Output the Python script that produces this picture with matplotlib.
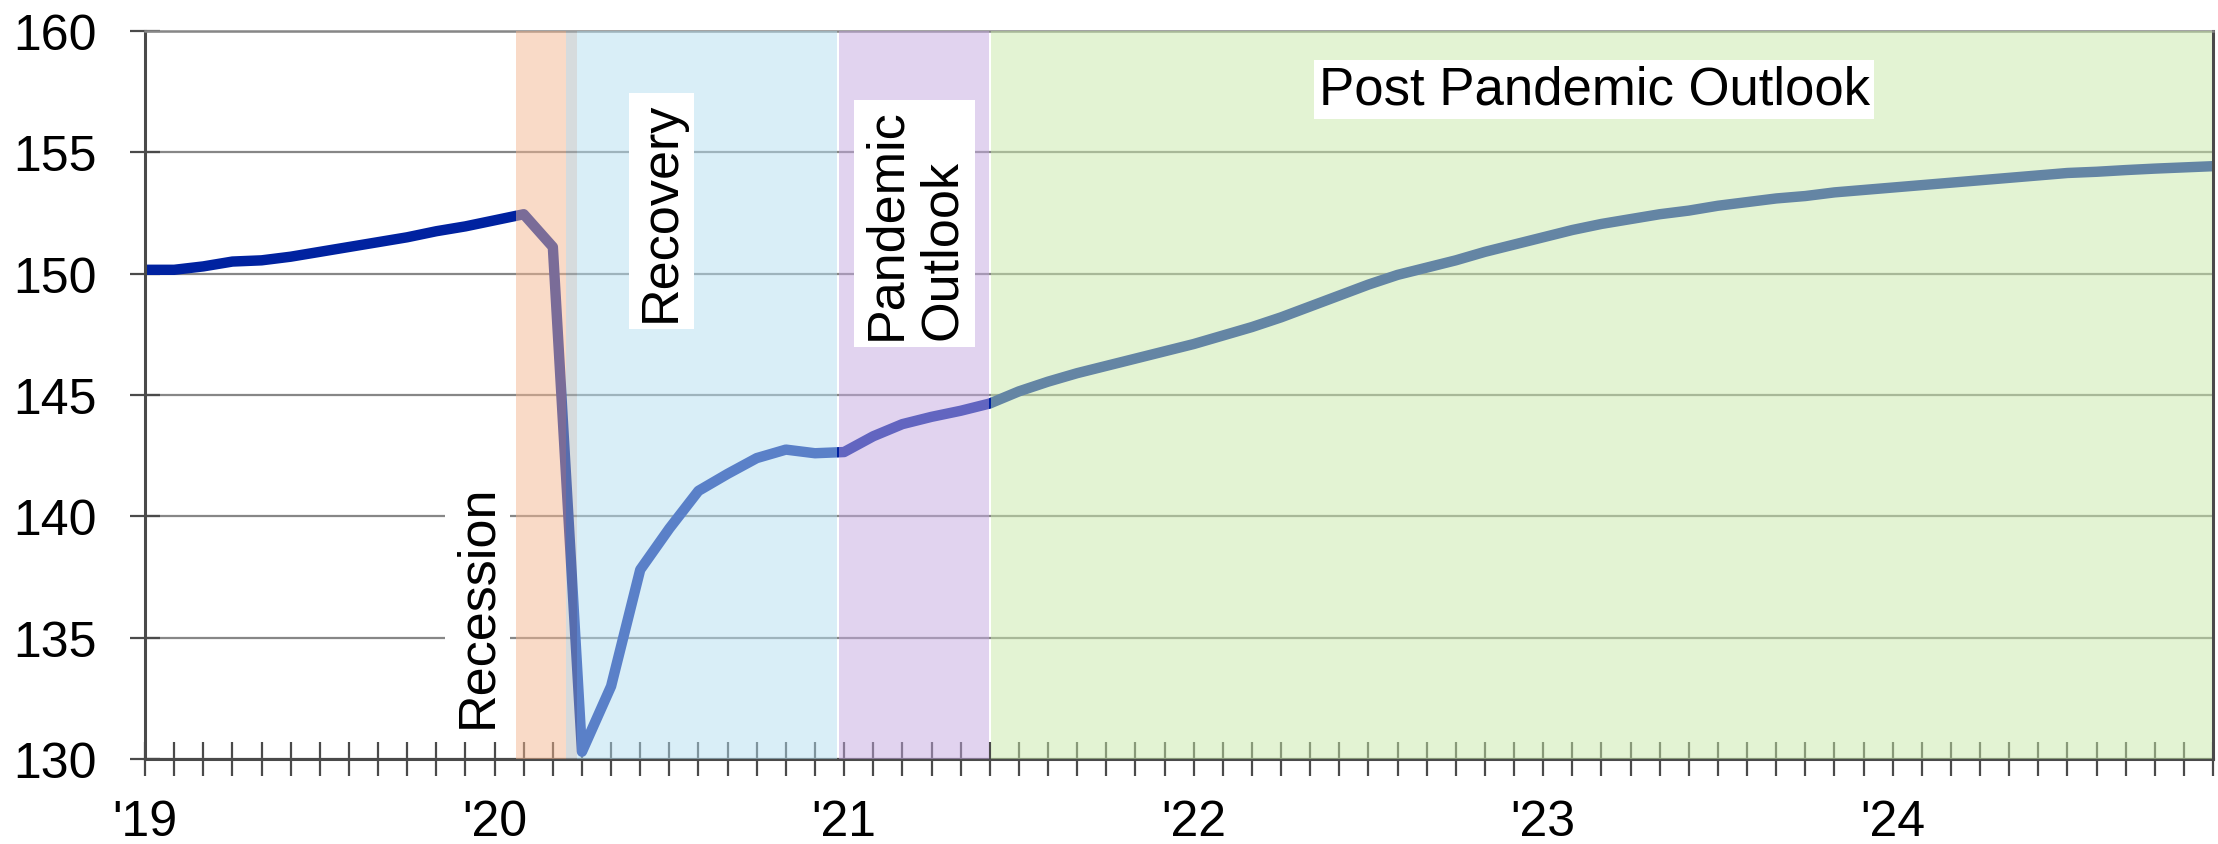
import numpy as np
import matplotlib.pyplot as plt

plt.rcParams['font.family'] = ['Liberation Sans', 'DejaVu Sans']

# monthly level, Jan 2019 (index 0) .. Dec 2024 (index 71)
payrolls = [
    150.16, 150.16, 150.3, 150.5, 150.55, 150.7, 150.9, 151.1, 151.3, 151.5, 151.75, 151.95,   # 2019
    152.2, 152.45, 151.1, 130.3, 133.0, 137.8, 139.5, 141.05, 141.75, 142.4, 142.75, 142.6,   # 2020
    142.65, 143.3, 143.8, 144.1, 144.35, 144.65, 145.15, 145.55, 145.9, 146.2, 146.5, 146.8,  # 2021
    147.1, 147.45, 147.8, 148.2, 148.65, 149.1, 149.55, 149.95, 150.25, 150.55, 150.9, 151.2,  # 2022
    151.5, 151.8, 152.05, 152.25, 152.45, 152.6, 152.8, 152.95, 153.1, 153.2, 153.35, 153.45,  # 2023
    153.55, 153.65, 153.75, 153.85, 153.95, 154.05, 154.15, 154.2, 154.27, 154.33, 154.38, 154.43,  # 2024
]
year_labels = ["'19", "'20", "'21", "'22", "'23", "'24"]

# shaded phases, in month index
phase_start = [12.74, 14.45, 14.83, 23.82, 29.05]
phase_end = [14.45, 14.83, 23.74, 28.98, 70.95]
phase_colors = ['#F5B791', '#AFB9BD', '#B5DFF1', '#C5A9E1', '#C9E9A9']

months = np.arange(len(payrolls))

fig = plt.figure(figsize=(22.18, 8.45), dpi=100)
ax = fig.add_axes([0.0654, 0.1006, 0.9324, 0.8615])

ax.plot(months, payrolls, color='#0022A0', lw=7.5, zorder=2)

# the phase blocks sit on top of the line, half transparent
for s, e, c in zip(phase_start, phase_end, phase_colors):
    ax.axvspan(s, e, color=c, alpha=0.5, lw=0, zorder=3)

ax.set_xlim(0, len(payrolls) - 1)
ax.set_ylim(130, 160)
ax.set_yticks(range(130, 161, 5))
xlabels = [year_labels[m // 12] if m % 12 == 0 else '' for m in months]
ax.set_xticks(months, xlabels)

ax.set_axisbelow(True)
ax.grid(axis='y', color='#878787', lw=1.6)
ax.grid(axis='x', visible=False)
ax.tick_params(axis='x', direction='inout', length=24, width=1.6,
               color='#4a4a4a', pad=17, labelsize=36)
ax.tick_params(axis='y', direction='inout', length=22, width=1.6,
               color='#4a4a4a', pad=24, labelsize=36)
for side in ['left', 'bottom', 'right']:
    ax.spines[side].set_color('#4a4a4a')
    ax.spines[side].set_linewidth(2.2)
ax.spines['top'].set_color('#878787')
ax.spines['top'].set_linewidth(1.8)

box = dict(facecolor='white', edgecolor='none', boxstyle='square,pad=0.15')
ax.text(11.41, 136.35, 'Recession', rotation=90, ha='center', va='center',
        fontsize=37.5, bbox=box, zorder=5)
ax.text(17.72, 152.6, 'Recovery', rotation=90, ha='center', va='center',
        fontsize=37.5, bbox=box, zorder=5)
ax.text(26.42, 147.3, 'Pandemic\nOutlook', rotation=90, ha='center', va='bottom',
        multialignment='left', fontsize=37.5, bbox=box, zorder=5)
ax.text(49.75, 157.02, 'Post Pandemic Outlook', ha='center', va='baseline',
        fontsize=38, bbox=dict(facecolor='white', edgecolor='none',
                               boxstyle='square,pad=0.08'), zorder=5)

fig.savefig('out.png', dpi=100)
